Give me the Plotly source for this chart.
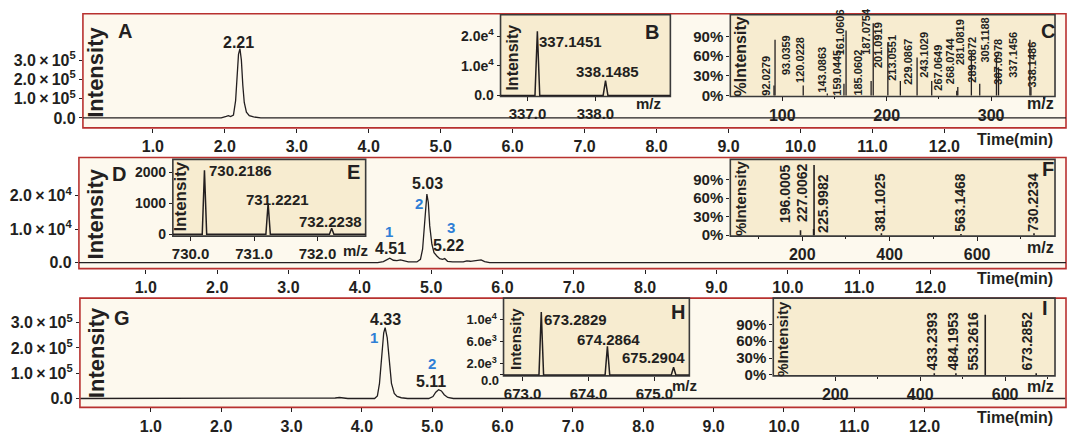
import plotly.graph_objects as go

W, H = 1070, 436
FONT = "Liberation Sans, Arial, sans-serif"
DARK = "#231f20"
BLUE = "#2f7fd6"
RED = "#b8312f"
CREAM = "#fdf9ee"
TAN = "#f7ecd0"

# ---------------- data ----------------
# Chromatogram A
a_time = [0.03, 1.95, 2.02, 2.05, 2.08, 2.12, 2.15, 2.17, 2.19, 2.21, 2.23, 2.25, 2.27,
          2.30, 2.34, 2.40, 2.50, 13.69]
a_int = [0, 0, 8e3, 1.2e4, 7e3, 1.5e4, 9e4, 2.2e5, 3.3e5, 3.6e5, 3.0e5, 1.7e5, 8e4,
         3e4, 1.2e4, 5e3, 0, 0]
# Chromatogram D
d_time = [0.06, 4.25, 4.33, 4.38, 4.42, 4.47, 4.52, 4.57, 4.62, 4.68,
          4.80, 4.85, 4.88, 4.90, 4.92, 4.94, 4.96, 4.98, 5.01, 5.04,
          5.08, 5.12, 5.16, 5.19, 5.23, 5.30, 5.45, 5.50, 5.55, 5.60,
          5.65, 5.70, 5.75, 5.82, 13.9]
d_int = [0, 0, 300, 1000, 1300, 700, 600, 800, 500, 200,
         200, 1000, 4000, 10000, 16000, 20500, 18000, 11000, 5500, 3000,
         2000, 1200, 1000, 1200, 400, 200, 200, 500, 400, 500,
         600, 800, 300, 0, 0]
# Chromatogram G
g_time = [0, 3.55, 3.62, 3.68, 3.74, 3.80, 4.18, 4.22, 4.25, 4.28,
          4.31, 4.33, 4.36, 4.39, 4.42, 4.46, 4.50, 4.56, 4.65, 4.95,
          5.01, 5.05, 5.09, 5.13, 5.17, 5.22, 5.30, 14.0]
g_int = [0, 0, 2000, 4000, 2000, 0, 0, 10000, 60000, 180000,
         260000, 280000, 240000, 150000, 60000, 20000, 8000, 3000, 0, 0,
         8000, 25000, 35000, 30000, 15000, 4000, 0, 0]

# Mass spectra
b_mz = [337.1451, 338.1485]
b_int = [21700, 5000]
c_mz = [92.0279, 93.0359, 120.0228, 143.0863, 159.0445, 161.0606, 185.0602, 187.0754,
        201.0919, 213.0551, 229.0867, 243.1029, 267.0649, 268.0744, 281.0819, 289.0872,
        305.1188, 307.0978, 337.1456, 338.1486]
c_pct = [15, 85, 15, 3, 18, 99, 22, 110, 81, 22, 58, 22, 7, 13, 63, 18, 60, 43, 85, 13]
e_mz = [730.2186, 731.2221, 732.2238]
e_int = [2060, 1000, 190]
f_mz = [196.0005, 225.9982, 227.0062, 381.1025, 563.1468, 730.2234]
f_pct = [8, 10, 114, 3, 2, 3]
h_mz = [673.2829, 674.2864, 675.2904]
h_int = [11400, 5200, 1400]
i_mz = [433.2393, 484.1953, 553.2616, 673.2852]
i_pct = [3, 3, 107, 3]

# tick labels
time_ticks = [1, 2, 3, 4, 5, 6, 7, 8, 9, 10, 11, 12]
time_text = ["1.0", "2.0", "3.0", "4.0", "5.0", "6.0", "7.0", "8.0", "9.0", "10.0", "11.0", "12.0"]
X = "\u2009×\u2009"
a_yt = [0, 1e5, 2e5, 3e5]
a_ytt = ["0.0", f"1.0{X}10<sup>5</sup>", f"2.0{X}10<sup>5</sup>", f"3.0{X}10<sup>5</sup>"]
d_yt = [0, 1e4, 2e4]
d_ytt = ["0.0", f"1.0{X}10<sup>4</sup>", f"2.0{X}10<sup>4</sup>"]
g_yt = [0, 1e5, 2e5, 3e5]
g_ytt = ["0.0", f"1.0{X}10<sup>5</sup>", f"2.0{X}10<sup>5</sup>", f"3.0{X}10<sup>5</sup>"]
b_yt = [0, 1e4, 2e4]
b_ytt = ["0.0", "1.0e<sup>4</sup>", "2.0e<sup>4</sup>"]
e_yt = [0, 1000, 2000]
e_ytt = ["0", "1000", "2000"]
h_yt = [0, 2000, 6000, 10000]
h_ytt = ["", "2.0e<sup>3</sup>", "6.0e<sup>3</sup>", "1.0e<sup>4</sup>"]
pct_yt = [0, 30, 60, 90]
pct_ytt = ["0%", "30%", "60%", "90%"]

# ---------------- figure ----------------
fig = go.Figure()
layout = dict(width=W, height=H, margin=dict(l=0, r=0, t=0, b=0),
              paper_bgcolor="white", plot_bgcolor="rgba(0,0,0,0)", showlegend=False)
shapes = []
annotations = []


def fnt(size, color=DARK):
    return dict(family=FONT, size=size, color=color, weight="bold")


def add_axes(i, x0, x1, ytop, ybot, xr, yr, xtv, xtt, ytv, ytt, xfs, yfs,
             xminor=None):
    xn = "xaxis" if i == 1 else f"xaxis{i}"
    yn = "yaxis" if i == 1 else f"yaxis{i}"
    xa = dict(domain=[x0 / W, x1 / W], range=xr, anchor="y" if i == 1 else f"y{i}",
              tickmode="array", tickvals=xtv, ticktext=xtt, ticks="outside", ticklen=4,
              tickwidth=1.2, tickcolor=DARK, showgrid=False, zeroline=False,
              showline=False, tickfont=fnt(xfs), fixedrange=True)
    if xminor:
        xa["minor"] = dict(tickvals=xminor, ticks="outside", ticklen=2, tickcolor=DARK)
    ya = dict(domain=[1 - ybot / H, 1 - ytop / H], range=yr,
              anchor="x" if i == 1 else f"x{i}", tickmode="array", tickvals=ytv,
              ticktext=ytt, ticks="outside", ticklen=3, tickwidth=1.2, tickcolor=DARK,
              showgrid=False, zeroline=False, showline=False, tickfont=fnt(yfs),
              fixedrange=True)
    layout[xn] = xa
    layout[yn] = ya
    return ("x" if i == 1 else f"x{i}", "y" if i == 1 else f"y{i}")


def frame(x0, y0, x1, y1, color, fill, width=1.6):
    shapes.append(dict(type="rect", xref="paper", yref="paper", x0=x0 / W, x1=x1 / W,
                       y0=1 - y1 / H, y1=1 - y0 / H, line=dict(color=color, width=width),
                       fillcolor=fill, layer="below"))


def ann(text, x, y, size=16, color=DARK, angle=0, xa="center", ya="middle"):
    annotations.append(dict(text=text, x=x / W, y=1 - y / H, xref="paper", yref="paper",
                            showarrow=False, font=fnt(size, color), textangle=angle,
                            xanchor=xa, yanchor=ya, borderpad=0))


def line_trace(x, y, ax, width=1.3):
    fig.add_trace(go.Scatter(x=x, y=y, mode="lines", xaxis=ax[0], yaxis=ax[1],
                             line=dict(color=DARK, width=width), hoverinfo="skip"))


def sticks(mz, val, ax, width=1.3):
    xs, ys = [], []
    for m, v in zip(mz, val):
        xs += [m, m, None]
        ys += [0, v, None]
    line_trace(xs, ys, ax, width)


def profile(mz, val, lo, hi, half, ax):
    xs, ys = [lo], [0]
    for m, v in zip(mz, val):
        xs += [m - half, m, m + half]
        ys += [0, v, 0]
    xs.append(hi)
    ys.append(0)
    line_trace(xs, ys, ax, 1.5)


# ---- main panels ----
frame(82, 14, 1066, 130, RED, CREAM)
frame(78, 160, 1066, 273, RED, CREAM)
frame(79, 303, 1066, 414, RED, CREAM)

axA = add_axes(1, 82, 1066, 14, 130, [0.028, 13.69], [-0.52e5, 5.41e5],
               time_ticks, time_text, a_yt, a_ytt, 16, 16)
axD = add_axes(2, 78, 1066, 160, 273, [0.062, 13.90], [-0.18e4, 3.15e4],
               time_ticks, time_text, d_yt, d_ytt, 16, 16)
axG = add_axes(3, 79, 1066, 303, 414, [-0.009, 14.01], [-0.35e5, 3.97e5],
               time_ticks, time_text, g_yt, g_ytt, 16, 16)
line_trace(a_time, a_int, axA)
line_trace(d_time, d_int, axD)
line_trace(g_time, g_int, axG)

# ---- insets ----
frame(500, 15, 670, 98, "#3a3a3a", TAN)
frame(730, 15, 1055, 98, "#3a3a3a", TAN)
frame(172, 162, 365, 240, "#3a3a3a", TAN)
frame(730, 162, 1055, 240, "#3a3a3a", TAN)
frame(503, 303, 689, 382, "#3a3a3a", TAN)
frame(773, 303, 1055, 382, "#3a3a3a", TAN)

axB = add_axes(4, 500, 670, 15, 98, [336.603, 339.103], [-330, 27300],
               [337, 338], ["337.0", "338.0"], b_yt, b_ytt, 15, 14)
axC = add_axes(5, 730, 1055, 15, 98, [50.2, 361.2], [-1.5, 123],
               [100, 200, 300], ["100", "200", "300"], pct_yt, pct_ytt, 16, 15,
               xminor=[150, 250, 350])
axE = add_axes(6, 172, 365, 162, 240, [729.72, 732.76], [-63, 2413],
               [730, 731, 732], ["730.0", "731.0", "732.0"], e_yt, e_ytt, 15, 14)
axF = add_axes(7, 730, 1055, 162, 240, [35.4, 778.3], [-1.6, 123],
               [200, 400, 600], ["200", "400", "600"], pct_yt, pct_ytt, 16, 15,
               xminor=[100, 300, 500, 700])
axH = add_axes(8, 503, 689, 303, 382, [672.71, 675.53], [-180, 13930],
               [673, 674, 675], ["673.0", "674.0", "675.0"], h_yt, h_ytt, 15, 13)
axI = add_axes(9, 773, 1055, 303, 382, [54, 717.6], [-1.7, 136.7],
               [200, 400, 600], ["200", "400", "600"], pct_yt, pct_ytt, 16, 15,
               xminor=[300, 500, 700])

profile(b_mz, b_int, 336.603, 339.103, 0.035, axB)
sticks(c_mz, c_pct, axC)
profile(e_mz, e_int, 729.72, 732.76, 0.035, axE)
sticks(f_mz, f_pct, axF, 1.6)
profile(h_mz, h_int, 672.71, 675.53, 0.035, axH)
sticks(i_mz, i_pct, axI, 1.6)

# ---- text ----
for yc in (73, 217, 358):
    ann("Intensity", 95, yc, 22, angle=-90)
ann("A", 124, 32, 20)
ann("D", 118, 177, 20)
ann("G", 121, 323, 20)
ann("B", 652, 33, 20)
ann("C", 1048, 32, 20)
ann("E", 353, 175, 20)
ann("F", 1048, 172, 20)
ann("H", 678, 317, 20)
ann("I", 1045, 313, 20)
for yc in (142, 283, 424):
    ann("Time(min)", 1015, yc, 16)

# chromatogram peak labels
ann("2.21", 238, 43, 16)
ann("5.03", 427, 187, 16)
ann("4.51", 390, 253, 16)
ann("5.22", 448, 250, 16)
ann("1", 388, 235, 15, BLUE)
ann("2", 418, 207, 15, BLUE)
ann("3", 450, 231, 15, BLUE)
ann("4.33", 385, 325, 16)
ann("5.11", 430, 388, 16)
ann("1", 373, 343, 15, BLUE)
ann("2", 431, 369, 15, BLUE)

# inset axis titles
ann("Intensity", 512, 59, 16, angle=-90)
ann("%Intensity", 740, 57, 16, angle=-90)
ann("Intensity", 180, 200, 17, angle=-90)
ann("%Intensity", 740, 201, 15, angle=-90)
ann("Intensity", 515, 345, 15, angle=-90)
ann("%Intensity", 782, 344, 15, angle=-90)
ann("m/z", 648, 105, 15)
ann("m/z", 1040, 105, 16)
ann("m/z", 355, 255, 15)
ann("m/z", 1040, 252, 16)
ann("m/z", 684, 392, 15)
ann("m/z", 1040, 393, 16)
ann("0.0", 499, 387, 13, xa="right")

# profile-spectrum labels
ann("337.1451", 570, 42, 15)
ann("338.1485", 607, 73, 15)
ann("730.2186", 240, 173, 15)
ann("731.2221", 277, 203, 15)
ann("732.2238", 330, 225, 15)
ann("673.2829", 575, 325, 15)
ann("674.2864", 608, 345, 15)
ann("675.2904", 653, 363, 15)

# stick-spectrum labels: (centre x px, bottom y px)
c_lab_pos = [(766, 98), (785, 77), (799, 85), (822, 95), (837, 98), (840, 57),
             (858, 98), (865, 57), (878, 70), (892, 83), (907, 87), (924, 80),
             (937, 93), (950, 87), (960, 67), (972, 85), (985, 65), (998, 87),
             (1013, 80), (1032, 90)]
for m, (xc, yb) in zip(c_mz, c_lab_pos):
    ann(f"{m:.4f}", xc, yb, 11, angle=-90, ya="bottom")
f_lab_pos = [(785, 228), (822, 238), (802, 227), (880, 237), (960, 237), (1033, 237)]
for m, (xc, yb) in zip(f_mz, f_lab_pos):
    ann(f"{m:.4f}", xc, yb, 14, angle=-90, ya="bottom")
i_lab_pos = [(932, 378), (953, 378), (973, 378), (1027, 378)]
for m, (xc, yb) in zip(i_mz, i_lab_pos):
    ann(f"{m:.4f}", xc, yb, 14, angle=-90, ya="bottom")

layout["shapes"] = shapes
layout["annotations"] = annotations
fig.update_layout(**layout)
fig.write_html("out.html", config={"displayModeBar": False},
               post_script="document.body.style.margin='0px';")
